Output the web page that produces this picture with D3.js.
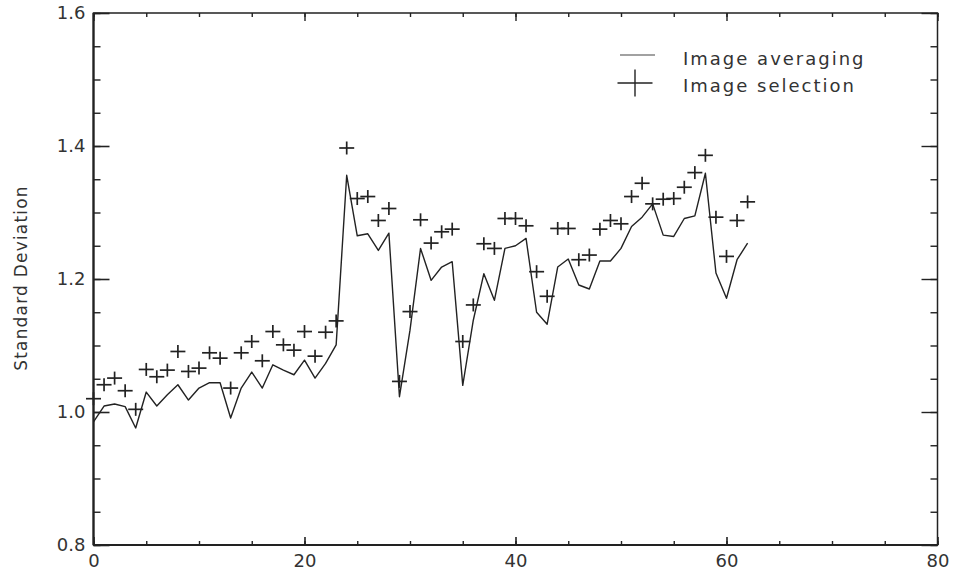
<!DOCTYPE html>
<html>
<head>
<meta charset="utf-8">
<script src="https://cdn.jsdelivr.net/npm/d3@7"></script>
<style>
  body { margin: 0; background: #fff; }
  svg { display: block; }
  text { font-family: "DejaVu Sans", sans-serif; fill: #333; }
</style>
</head>
<body>
<svg id="chart" width="953" height="574"></svg>
<script>
// series, one value per x = 0..62
var averaging = [0.985, 1.009, 1.012, 1.008, 0.976, 1.030, 1.009, 1.026, 1.041, 1.018,
    1.036, 1.044, 1.044, 0.991, 1.036, 1.060, 1.036, 1.071, 1.063, 1.056,
    1.078, 1.051, 1.073, 1.101, 1.356, 1.265, 1.268, 1.243, 1.269, 1.023,
    1.123, 1.246, 1.198, 1.218, 1.226, 1.040, 1.138, 1.208, 1.168, 1.246,
    1.250, 1.261, 1.150, 1.132, 1.218, 1.230, 1.191, 1.185, 1.227, 1.227,
    1.246, 1.279, 1.293, 1.313, 1.266, 1.264, 1.291, 1.295, 1.359, 1.209,
    1.171, 1.229, 1.254];

var selection = [1.020, 1.041, 1.051, 1.032, 1.004, 1.064, 1.053, 1.063, 1.091, 1.061,
    1.066, 1.089, 1.081, 1.036, 1.089, 1.106, 1.077, 1.121, 1.101, 1.093,
    1.121, 1.084, 1.120, 1.137, 1.397, 1.321, 1.324, 1.288, 1.306, 1.046,
    1.151, 1.289, 1.254, 1.271, 1.275, 1.106, 1.161, 1.253, 1.246, 1.291,
    1.291, 1.280, 1.211, 1.174, 1.276, 1.276, 1.229, 1.236, 1.275, 1.288,
    1.283, 1.324, 1.344, 1.313, 1.320, 1.321, 1.338, 1.360, 1.386, 1.293,
    1.234, 1.288, 1.316];

var xTicks = [0, 20, 40, 60, 80];
var xMinor = d3.range(0, 81, 5);
var yTicks = [0.8, 1.0, 1.2, 1.4, 1.6];
var yMinor = d3.range(0.8, 1.6001, 0.05);
var legendLabels = ["Image averaging", "Image selection"];
var yTitle = "Standard Deviation";

// NB: "top" is taken by window.top, so plot* names
var plotLeft = 93.5, plotRight = 937.5, plotTop = 13, plotBottom = 545;

var x = d3.scaleLinear().domain([0, 80]).range([plotLeft, plotRight]);
var y = d3.scaleLinear().domain([0.8, 1.6]).range([plotBottom, plotTop]);

var svg = d3.select("#chart");
var ink = "#222";

// tick-only axes, no labels
function bareAxis(g) {
    g.selectAll("text").remove();
    g.select(".domain").remove();
    g.selectAll("line").attr("stroke", ink).attr("stroke-width", 1.4);
}

svg.append("g").attr("transform", "translate(0," + plotBottom + ")")
    .call(d3.axisBottom(x).tickValues(xMinor).tickSize(-4)).call(bareAxis);
svg.append("g").attr("transform", "translate(0," + plotTop + ")")
    .call(d3.axisTop(x).tickValues(xMinor).tickSize(-4)).call(bareAxis);
svg.append("g").attr("transform", "translate(" + plotLeft + ",0)")
    .call(d3.axisLeft(y).tickValues(yMinor).tickSize(-7)).call(bareAxis);
svg.append("g").attr("transform", "translate(" + plotRight + ",0)")
    .call(d3.axisRight(y).tickValues(yMinor).tickSize(-7)).call(bareAxis);
svg.append("g").attr("transform", "translate(0," + plotTop + ")")
    .call(d3.axisTop(x).tickValues(xTicks).tickSize(-8)).call(bareAxis);
svg.append("g").attr("transform", "translate(" + plotRight + ",0)")
    .call(d3.axisRight(y).tickValues(yTicks).tickSize(-16)).call(bareAxis);

// major ticks with labels
function labelAxis(g) {
    g.select(".domain").remove();
    g.selectAll("line").attr("stroke", ink).attr("stroke-width", 1.6);
    g.selectAll("text").attr("font-size", 18).attr("font-family", "DejaVu Sans").attr("fill", "#333");
}
svg.append("g").attr("transform", "translate(0," + plotBottom + ")")
    .call(d3.axisBottom(x).tickValues(xTicks).tickSize(-8).tickPadding(9).tickFormat(d3.format("d")))
    .call(labelAxis);
svg.append("g").attr("transform", "translate(" + plotLeft + ",0)")
    .call(d3.axisLeft(y).tickValues(yTicks).tickSize(-16).tickPadding(8).tickFormat(d3.format(".1f")))
    .call(labelAxis);

// frame
svg.append("rect")
    .attr("x", plotLeft).attr("y", plotTop)
    .attr("width", plotRight - plotLeft).attr("height", plotBottom - plotTop)
    .attr("fill", "none").attr("stroke", ink).attr("stroke-width", 1.5);
svg.append("line").attr("x1", plotLeft).attr("x2", plotLeft).attr("y1", plotTop).attr("y2", plotBottom)
    .attr("stroke", ink).attr("stroke-width", 2.2);
svg.append("line").attr("x1", plotLeft).attr("x2", plotRight).attr("y1", plotBottom).attr("y2", plotBottom)
    .attr("stroke", ink).attr("stroke-width", 2.2);

// y title
svg.append("text")
    .attr("transform", "translate(27,278) rotate(-90)")
    .attr("text-anchor", "middle")
    .attr("font-size", 17)
    .attr("letter-spacing", 1.2)
    .text(yTitle);

// averaging line
var line = d3.line()
    .x(function(d, i) { return x(i); })
    .y(function(d) { return y(d); });

svg.append("path")
    .datum(averaging)
    .attr("d", line)
    .attr("fill", "none")
    .attr("stroke", ink)
    .attr("stroke-width", 1.4)
    .attr("stroke-linejoin", "round");

// selection markers
var plus = function(sel, w, h) {
    sel.append("line").attr("x1", -w / 2).attr("x2", w / 2).attr("y1", 0).attr("y2", 0);
    sel.append("line").attr("x1", 0).attr("x2", 0).attr("y1", -h / 2).attr("y2", h / 2);
};

svg.append("g")
    .attr("stroke", ink)
    .attr("stroke-width", 1.7)
    .selectAll("g")
    .data(selection)
    .join("g")
    .attr("transform", function(d, i) { return "translate(" + x(i) + "," + y(d) + ")"; })
    .each(function() { plus(d3.select(this), 15, 13); });

// legend
var legend = svg.append("g");
legend.append("line")
    .attr("x1", 620).attr("x2", 655).attr("y1", 55).attr("y2", 55)
    .attr("stroke", "#444").attr("stroke-width", 1.2);
legend.append("g")
    .attr("transform", "translate(635,83)")
    .attr("stroke", ink).attr("stroke-width", 1.4)
    .call(plus, 35, 27);
legend.selectAll("text")
    .data(legendLabels)
    .join("text")
    .attr("x", 683)
    .attr("y", function(d, i) { return 65 + i * 27; })
    .attr("font-size", 18)
    .attr("letter-spacing", 2)
    .text(function(d) { return d; });
</script>
</body>
</html>
